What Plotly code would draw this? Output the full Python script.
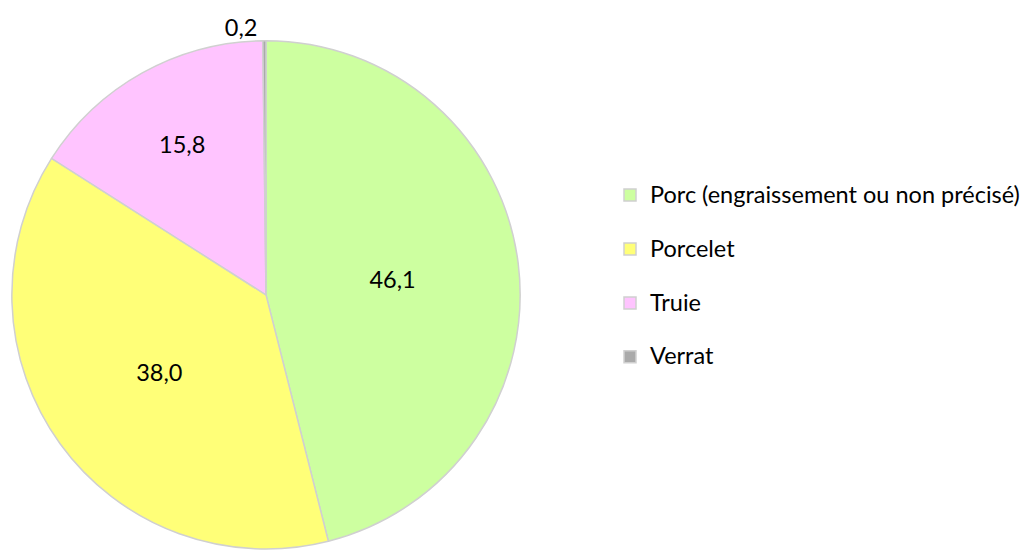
import plotly.graph_objects as go

# Répartition par catégorie de porcins (%)
categories = ["Porc (engraissement ou non précisé)", "Porcelet", "Truie", "Verrat"]
values = [46.1, 38.0, 15.8, 0.2]
colors = ["#cdffa0", "#ffff78", "#ffc4ff", "#aaaaaa"]
text_positions = ["inside", "inside", "inside", "outside"]

FONT = "Lato, Calibri, Carlito, sans-serif"
TEXT_SIZE = 23.5

# Legend rows are two lines tall (label + blank line) to space the entries out;
# the visible label keeps the larger text size through an inline span.
legend_labels = [
    f"<span style='font-size:{TEXT_SIZE}px'>{c}</span><br> " for c in categories
]

fig = go.Figure(
    go.Pie(
        labels=legend_labels,
        values=values,
        sort=False,
        direction="clockwise",
        rotation=0,
        marker=dict(colors=colors, line=dict(color="#d0d0d0", width=1.5)),
        texttemplate="%{value:.1f}",
        textposition=text_positions,
        insidetextorientation="horizontal",
        textfont=dict(family=FONT, size=TEXT_SIZE, color="#000000"),
        domain=dict(x=[10 / 1031, 522 / 1031], y=[1 - 553 / 554, 1 - 41 / 554]),
        hoverinfo="value",
    )
)

fig.update_layout(
    width=1031,
    height=554,
    margin=dict(l=0, r=0, t=0, b=0),
    paper_bgcolor="white",
    plot_bgcolor="white",
    separators=", ",
    showlegend=True,
    legend=dict(
        x=610 / 1031,
        xanchor="left",
        y=1 - 177 / 554,
        yanchor="top",
        valign="top",
        font=dict(family=FONT, size=19.6, color="#000000"),
        itemwidth=30,
        bgcolor="rgba(0,0,0,0)",
    ),
)

fig.write_html("out.html")
